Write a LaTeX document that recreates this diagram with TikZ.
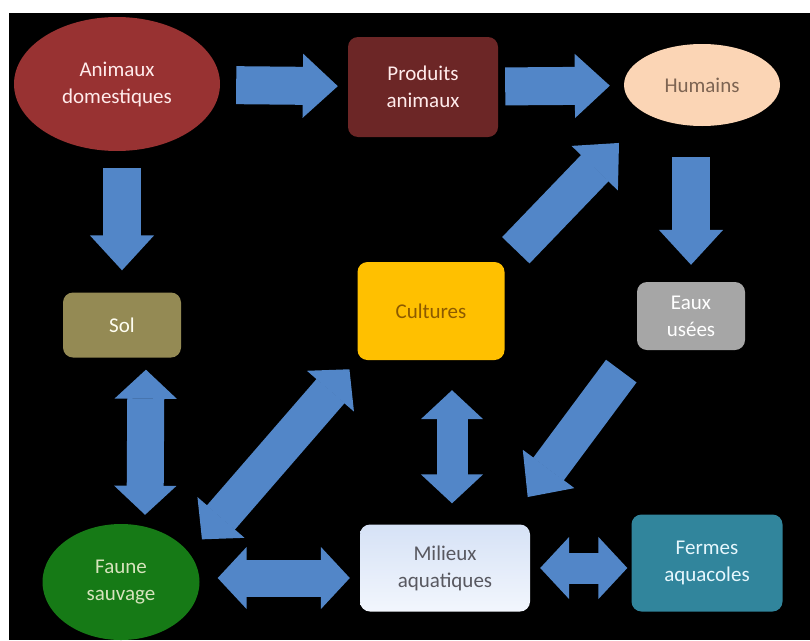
\documentclass[tikz,border=0pt]{standalone}
\usepackage{fontspec}
\setmainfont{Carlito}
\usetikzlibrary{arrows.meta,shapes.geometric}
\definecolor{arrowblue}{RGB}{82,134,200}
\definecolor{animred}{RGB}{152,50,50}
\definecolor{prodred}{RGB}{108,38,38}
\definecolor{humpeach}{RGB}{251,213,181}
\definecolor{humtext}{RGB}{125,100,82}
\definecolor{sololive}{RGB}{148,138,84}
\definecolor{cultyellow}{RGB}{255,192,0}
\definecolor{culttext}{RGB}{140,90,0}
\definecolor{eauxgray}{RGB}{166,166,166}
\definecolor{faunegreen}{RGB}{22,122,22}
\definecolor{faunetext}{RGB}{215,228,189}
\definecolor{milieuxtop}{RGB}{214,226,246}
\definecolor{milieuxbot}{RGB}{242,246,253}
\definecolor{milieuxtext}{RGB}{88,88,96}
\definecolor{fermesteal}{RGB}{49,133,156}
\begin{document}
\begin{tikzpicture}[x=1pt,y=-1pt]
                \tikzstyle{box}=[rectangle,rounded corners=10pt,align=center,inner sep=0pt,font=\fontsize{21}{27}\selectfont]
                \tikzstyle{oval}=[ellipse,align=center,inner sep=0pt,font=\fontsize{21}{27}\selectfont]
                \tikzstyle{onearrow}=[draw=arrowblue,line width=38pt,-{Triangle[length=35pt,width=64pt,line width=1.5pt]}]
                \tikzstyle{twoarrow}=[draw=arrowblue,line width=37pt,{Triangle[length=29pt,width=62pt,line width=1.5pt]}-{Triangle[length=29pt,width=62pt,line width=1.5pt]}]
                \useasboundingbox (0,0) rectangle (810,640);
                \fill[white] (0,0) rectangle (810,640);
                \fill[black] (9,13) rectangle (810,640);
                \begin{scope}
                    \node[oval,fill=animred,text=red!8,minimum width=206pt,minimum height=134pt] (anim) at (117,84) {Animaux\\domestiques};
                    \node[box,fill=prodred,text=white!92!red,minimum width=150pt,minimum height=100pt] (prod) at (423,87) {Produits\\animaux};
                    \node[oval,fill=humpeach,text=humtext,minimum width=156pt,minimum height=82pt] (hum) at (702,85) {Humains};
                \end{scope}
                \begin{scope}
                    \node[box,fill=sololive,text=white!95!yellow,minimum width=118pt,minimum height=65pt] (sol) at (122,325) {Sol};
                    \node[box,fill=cultyellow,text=culttext,minimum width=147pt,minimum height=98pt] (cult) at (431,311) {Cultures};
                    \node[box,fill=eauxgray,text=white,minimum width=108pt,minimum height=68pt] (eaux) at (691,316) {Eaux\\usées};
                \end{scope}
                \begin{scope}
                    \node[oval,fill=faunegreen,text=faunetext,minimum width=157pt,minimum height=116pt] (faune) at (121,582) {Faune\\sauvage};
                    \node[box,top color=milieuxtop,bottom color=milieuxbot,text=milieuxtext,minimum width=170pt,minimum height=87pt] (milieux) at (445,568) {Milieux\\aquatiques};
                    \node[box,fill=fermesteal,text=white!90!cyan,minimum width=151pt,minimum height=97pt] (fermes) at (707,563) {Fermes\\aquacoles};
                \end{scope}
                \begin{scope}
                    \draw[onearrow,shorten <=16pt,shorten >=10pt] (anim) -- (prod);
                    \draw[onearrow,shorten <=7pt,shorten >=14pt] (prod) -- (hum);
                    \draw[onearrow,shorten <=17pt,shorten >=22pt] (anim.south -| sol.north) -- (sol.north);
                    \draw[onearrow,shorten <=31pt,shorten >=17pt] (hum.south -| eaux.north) -- (eaux.north);
                    \draw[onearrow,shorten <=16pt,shorten >=40pt] (cult.north east) -- (hum.south west);
                    \draw[onearrow,shorten <=26pt,shorten >=34pt] (eaux.south west) -- (milieux.35);
                \end{scope}
                \begin{scope}
                    \draw[twoarrow,shorten <=12pt,shorten >=9pt] ([xshift=24pt]sol.south) -- ([xshift=24pt]faune.north);
                    \draw[twoarrow,shorten <=12pt,shorten >=2pt] (cult.south west) -- ([xshift=24pt]faune.north east);
                    \draw[twoarrow,line width=31pt,shorten <=30pt,shorten >=21pt] ([xshift=21pt]cult.south) -- ([xshift=7pt]milieux.north);
                    \draw[twoarrow,shorten <=18pt,shorten >=10pt] ([yshift=4pt]faune.east) -- ([yshift=-10pt]milieux.west);
                    \draw[twoarrow,line width=31pt,shorten <=10pt,shorten >=4pt] (milieux.east) -- (milieux.east -| fermes.west);
                \end{scope}
            \end{tikzpicture}
\end{document}
